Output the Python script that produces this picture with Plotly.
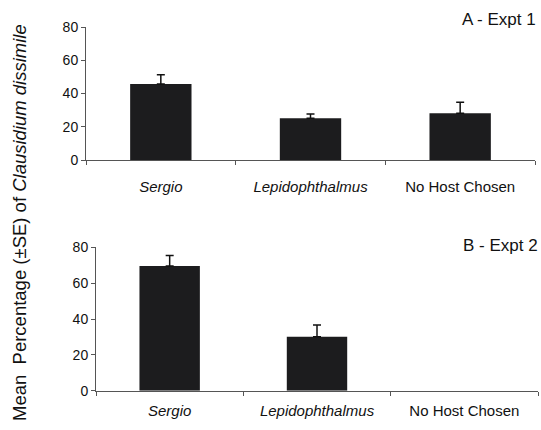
import plotly.graph_objects as go

categories = ["Sergio", "Lepidophthalmus", "No Host Chosen"]
tick_labels = ["<i>Sergio</i>", "<i>Lepidophthalmus</i>", "No Host Chosen"]
expt1_mean = [45.7, 25.1, 28.1]
expt1_se = [5.6, 2.6, 6.6]
expt2_mean = [69.6, 30.1, 0.0]
expt2_se = [5.8, 6.6, 0.0]
y_ticks = [0, 20, 40, 60, 80]
panel_titles = ["A - Expt 1", "B - Expt 2"]

W, H = 541, 430
FONT = "Liberation Sans, Arial, sans-serif"
bar_color = "#1c1c1e"
axis_color = "#555555"
text_color = "#111111"

fig = go.Figure()
for i, (m, se) in enumerate([(expt1_mean, expt1_se), (expt2_mean, expt2_se)]):
    xa = "x" if i == 0 else "x2"
    ya = "y" if i == 0 else "y2"
    fig.add_trace(go.Bar(
        x=categories, y=m, xaxis=xa, yaxis=ya,
        marker=dict(color=bar_color, line=dict(width=0)),
        width=0.41, showlegend=False, hoverinfo="skip",
    ))
    keep = [k for k, s in enumerate(se) if s > 0]
    fig.add_trace(go.Scatter(
        x=[categories[k] for k in keep], y=[m[k] for k in keep],
        xaxis=xa, yaxis=ya, mode="markers",
        marker=dict(size=1, opacity=0),
        error_y=dict(type="data", array=[se[k] for k in keep],
                     arrayminus=[0 for _ in keep], symmetric=False,
                     color="#111111", thickness=1.5, width=4, visible=True),
        showlegend=False, hoverinfo="skip",
    ))

def px_x(v):
    return v / W

def px_y(v):
    return 1 - v / H

common_x = dict(type="category", categoryorder="array", categoryarray=categories,
                tickvals=categories, ticktext=tick_labels, tickson="boundaries",
                range=[-0.5, 2.5], showline=True, linecolor=axis_color, linewidth=1,
                ticks="outside", ticklen=4, tickcolor=axis_color, showgrid=False,
                zeroline=False, automargin=False,
                tickfont=dict(family=FONT, size=15, color=text_color))
common_y = dict(range=[0, 80], tickvals=y_ticks, showline=True, linecolor=axis_color,
                linewidth=1, ticks="outside", ticklen=4, tickcolor=axis_color,
                showgrid=False, zeroline=False, automargin=False,
                tickfont=dict(family=FONT, size=14, color=text_color))

fig.update_layout(
    width=W, height=H,
    margin=dict(l=0, r=0, t=0, b=0),
    paper_bgcolor="white", plot_bgcolor="white",
    xaxis=dict(common_x, domain=[px_x(86), px_x(535)], anchor="y", ticklabelstandoff=13),
    yaxis=dict(common_y, domain=[px_y(160), px_y(27)], anchor="x"),
    xaxis2=dict(common_x, domain=[px_x(96), px_x(538)], anchor="y2", ticklabelstandoff=6),
    yaxis2=dict(common_y, domain=[px_y(390.7), px_y(247.3)], anchor="x2"),
    annotations=[
        dict(text=panel_titles[0], xref="paper", yref="paper", x=px_x(538), y=px_y(20),
             xanchor="right", yanchor="middle", showarrow=False,
             font=dict(family=FONT, size=17, color=text_color)),
        dict(text=panel_titles[1], xref="paper", yref="paper", x=px_x(540), y=px_y(246),
             xanchor="right", yanchor="middle", showarrow=False,
             font=dict(family=FONT, size=17, color=text_color)),
        dict(text="Mean  Percentage (±SE) of <i>Clausidium dissimile</i>",
             xref="paper", yref="paper", x=px_x(19), y=px_y(223),
             xanchor="center", yanchor="middle", textangle=-90, showarrow=False,
             font=dict(family=FONT, size=18.5, color=text_color)),
    ],
)

fig.write_html("out.html", config={"displayModeBar": False},
               post_script="document.body.style.margin='0px';")
